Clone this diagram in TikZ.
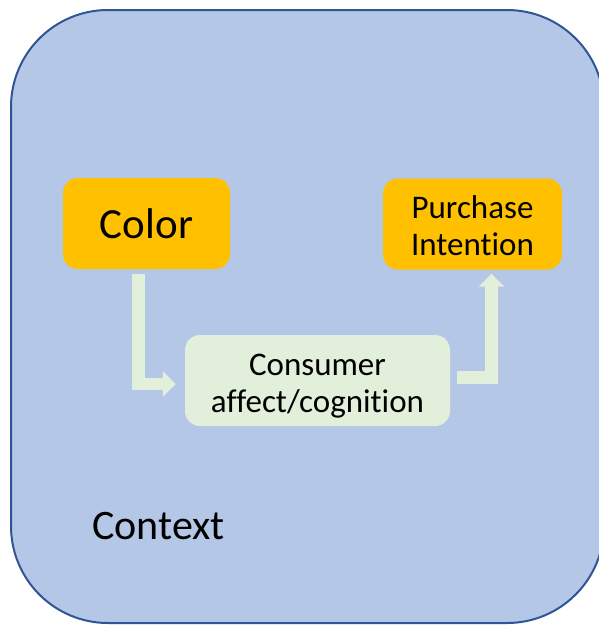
\documentclass[tikz,border=0pt]{standalone}
\usepackage{fontspec}
\setmainfont[Ligatures={NoCommon,NoRare}]{Carlito}
\usetikzlibrary{arrows.meta}
\definecolor{ctxfill}{HTML}{B4C7E7}
\definecolor{ctxline}{HTML}{2F5597}
\definecolor{orangebox}{HTML}{FFC000}
\definecolor{greenbox}{HTML}{E2EFDA}
\tikzset{
  outerbox/.style={draw=ctxline, fill=ctxfill, line width=2pt, rounded corners=97pt},
  orangenode/.style={fill=orangebox, rounded corners=15pt, inner sep=0pt, align=center},
  greennode/.style={fill=greenbox, rounded corners=15pt, inner sep=0pt, align=center},
  elbowarrow/.style={draw=greenbox, line width=12.5pt, line join=miter,
    -{Triangle[width=25pt,length=13pt]}},
}
\begin{document}
\begin{tikzpicture}[x=1pt,y=-1pt]
\useasboundingbox (0,0) rectangle (599,625);
\draw[outerbox] (11,10) rectangle (604,623);
\node[orangenode, minimum width=167pt, minimum height=91pt,
  font=\fontsize{43}{50}\selectfont] (color) at (146.5,223.5) {Color};
\node[orangenode, minimum width=179pt, minimum height=91pt,
  font=\fontsize{33}{37}\selectfont] (purch) at (472.5,224) {\rule{0pt}{27pt}Purchase\\Intention};
\node[greennode, minimum width=265pt, minimum height=91pt,
  font=\fontsize{33}{37}\selectfont] (cons) at (317.5,380.5) {\rule{0pt}{33pt}Consumer\\affect/cognition};
\node[anchor=base west, inner sep=0pt, font=\fontsize{42}{48}\selectfont] (ctx) at (92,539) {Context};
\draw[elbowarrow] ([xshift=-8pt,yshift=-5pt]color.south) |- ([xshift=-9pt,yshift=-3.5pt]cons.west);
\draw[elbowarrow] ([xshift=7pt,yshift=3pt]cons.east) -| ([xshift=19pt,yshift=-4pt]purch.south);
\end{tikzpicture}
\end{document}
